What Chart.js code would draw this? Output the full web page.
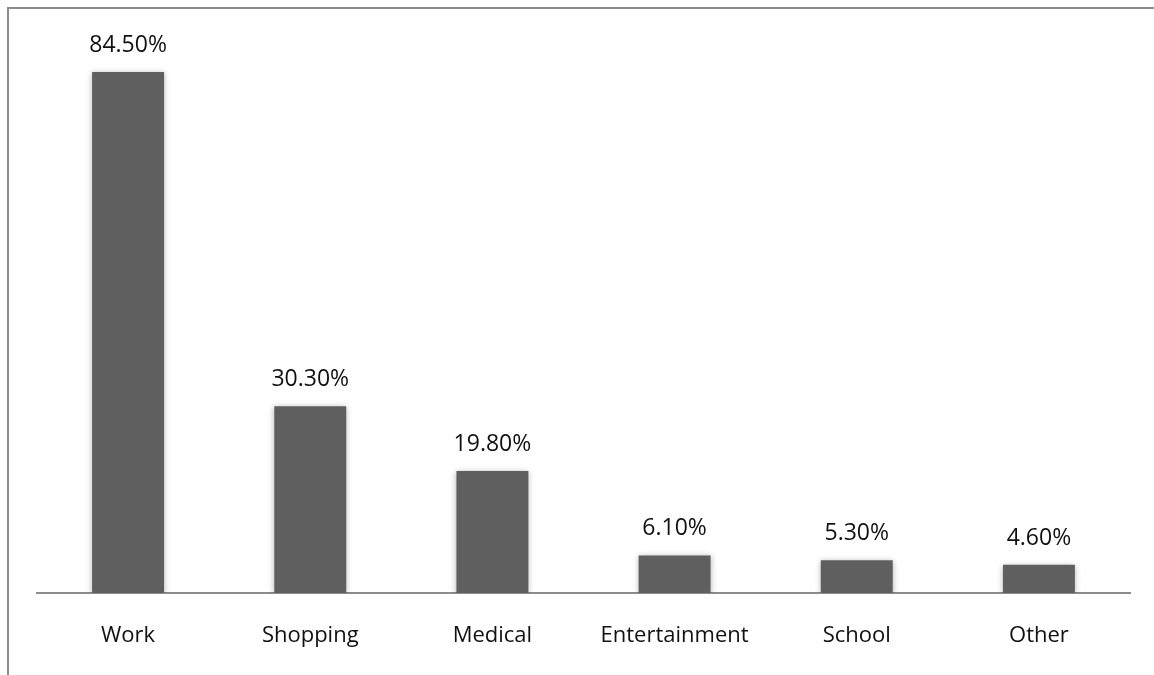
<!DOCTYPE html>
<html>
<head>
<meta charset="utf-8">
<script src="https://cdn.jsdelivr.net/npm/chart.js@4/dist/chart.umd.min.js"></script>
<style>
  html, body { margin: 0; padding: 0; background: #fff; overflow: hidden; }
  #frame {
    position: absolute; left: 7px; top: 7px; width: 1160px; height: 680px;
    border-left: 2px solid #8c8c8c; border-top: 2px solid #8c8c8c;
  }
  #wrap { position: absolute; left: 0; top: 0; width: 1154px; height: 675px; }
</style>
</head>
<body>
<div id="frame"></div>
<div id="wrap"><canvas id="chart"></canvas></div>
<script>
// data
var categories = ['Work', 'Shopping', 'Medical', 'Entertainment', 'School', 'Other'];
var percents = [84.5, 30.3, 19.8, 6.1, 5.3, 4.6];

// soft shadow round the bars + value labels on top
var barExtras = {
  id: 'barExtras',
  beforeDatasetsDraw: function(chart) {
    var ctx = chart.ctx;
    ctx.save();
    ctx.shadowColor = 'rgba(0,0,0,0.3)';
    ctx.shadowBlur = 6;
    ctx.shadowOffsetX = 0;
    ctx.shadowOffsetY = 1;
  },
  afterDatasetsDraw: function(chart) {
    var ctx = chart.ctx;
    ctx.restore();
    ctx.save();
    ctx.font = '23px "Open Sans"';
    ctx.fillStyle = '#111';
    ctx.textAlign = 'center';
    ctx.textBaseline = 'alphabetic';
    chart.getDatasetMeta(0).data.forEach(function(bar, i) {
      ctx.fillText(percents[i].toFixed(2) + '%', bar.x, bar.y - 20);
    });
    ctx.restore();
  }
};

var ctx = document.getElementById('chart').getContext('2d');
var myChart = new Chart(ctx, {
  type: 'bar',
  data: {
    labels: categories,
    datasets: [{
      data: percents,
      backgroundColor: '#5f5f5f',
      borderWidth: 0,
      barPercentage: 0.79,
      categoryPercentage: 0.5
    }]
  },
  options: {
    responsive: true,
    maintainAspectRatio: false,
    animation: false,
    layout: { padding: { left: 37, right: 24, top: 38, bottom: 0 } },
    plugins: { legend: { display: false }, tooltip: { enabled: false } },
    scales: {
      x: {
        grid: { display: true, drawOnChartArea: false, drawTicks: false },
        border: { display: true, color: '#8c8c8c', width: 2 },
        ticks: { color: '#111', padding: 30, font: { family: 'Open Sans', size: 22 } },
        afterFit: function(scale) { scale.height = 82; }
      },
      y: { display: false, min: 0, max: 90 }
    }
  },
  plugins: [barExtras]
});
</script>
</body>
</html>
